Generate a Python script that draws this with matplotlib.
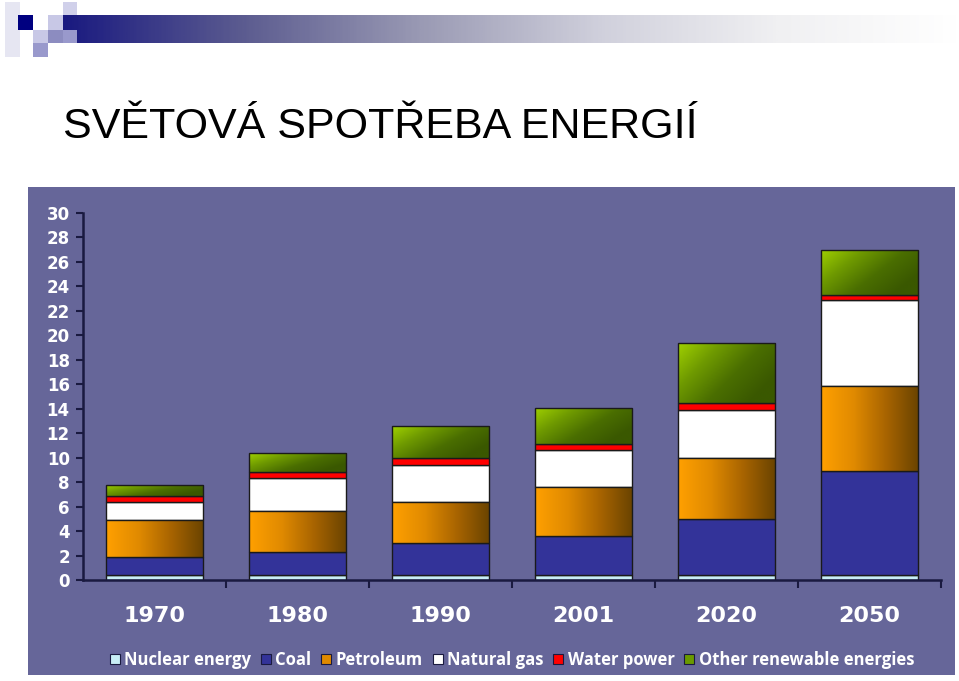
import numpy as np
import matplotlib
matplotlib.use('Agg')
import matplotlib.pyplot as plt
from matplotlib.patches import Rectangle, Patch
from matplotlib.colors import LinearSegmentedColormap

# data (units as on the axis)
years = ['1970', '1980', '1990', '2001', '2020', '2050']
nuclear = [0.4, 0.4, 0.4, 0.4, 0.4, 0.4]
coal = [1.5, 1.9, 2.6, 3.2, 4.55, 8.55]
petroleum = [3.0, 3.3, 3.4, 4.0, 5.0, 6.9]
natural_gas = [1.5, 2.7, 3.0, 3.0, 3.95, 7.05]
water_power = [0.5, 0.55, 0.55, 0.5, 0.55, 0.4]
other = [0.9, 1.5, 2.6, 3.0, 4.9, 3.7]
labels = ['Nuclear energy', 'Coal', 'Petroleum', 'Natural gas', 'Water power',
          'Other renewable energies']
yticks = list(range(0, 31, 2))

W, H = 959, 681
purple = '#666699'
axis_col = '#1a1a40'

fig = plt.figure(figsize=(W / 100, H / 100), dpi=100)
fig.patch.set_facecolor('white')


def box(x, y, w, h):
    # pixel box (top-left origin) -> figure fraction rect
    return [x / W, 1 - (y + h) / H, w / W, h / H]


# header decoration
squares = [
    (5, 2, 15, 55, '#e6e6f2'),
    (18, 15, 15, 15, '#000080'),
    (33, 30, 15, 13, '#c8c8e6'),
    (48, 15, 15, 15, '#c8c8e6'),
    (63, 2, 14, 13, '#d0d0ea'),
    (48, 30, 15, 13, '#8c8cc0'),
    (33, 43, 15, 14, '#9999cc'),
]
for x, y, w, h, c in squares:
    r = box(x, y, w, h)
    fig.patches.append(Rectangle((r[0], r[1]), r[2], r[3], transform=fig.transFigure,
                                 facecolor=c, edgecolor='none', zorder=-2))

bar_ax = fig.add_axes(box(63, 15, 896, 28))
hdr = LinearSegmentedColormap.from_list('hdr', ['#1a1a80', '#5c5c90', '#9a9ab4',
                                                '#d0d0dc', '#f0f0f2', '#ffffff'])
bar_ax.imshow(np.linspace(0, 1, 400)[None, :], aspect='auto', cmap=hdr)
bar_ax.axis('off')
r = box(63, 30, 14, 13)
fig.patches.append(Rectangle((r[0], r[1]), r[2], r[3], transform=fig.transFigure,
                             facecolor='#9999cc', edgecolor='none', zorder=5))

fig.text(63 / W, 1 - 138 / H, 'SVĚTOVÁ SPOTŘEBA ENERGIÍ', fontsize=31,
         family='Liberation Sans', color='black', ha='left', va='baseline')

# purple chart panel
r = box(28, 187, 927, 488)
fig.patches.append(Rectangle((r[0], r[1]), r[2], r[3], transform=fig.transFigure,
                             facecolor=purple, edgecolor='none', zorder=-1))

ax = fig.add_axes(box(83, 213, 858, 367))
ax.set_facecolor(purple)
x = np.arange(len(years))
width = 0.68

series = [nuclear, coal, petroleum, natural_gas, water_power, other]
colors = ['#c8eef6', '#333399', '#ff9900', '#ffffff', '#ff0000', '#6a9a00']
bottom = np.zeros(len(years))
containers = []
for vals, c in zip(series, colors):
    cont = ax.bar(x, vals, width, bottom=bottom, color=c, edgecolor='#1a1a1a',
                  linewidth=1.0, zorder=2)
    containers.append(cont)
    bottom += np.array(vals)

# gradients for petroleum and other renewables
petro_cmap = LinearSegmentedColormap.from_list('p', ['#ffa000', '#e08a00', '#a86400', '#6a4400'])
petro_grad = np.linspace(0, 1, 100)[None, :]
green_cmap = LinearSegmentedColormap.from_list('g', ['#9fd000', '#6f9a00', '#4a6e00', '#3a5800'])
gx, gy = np.meshgrid(np.linspace(0, 1, 100), np.linspace(0, 1, 50))
green_grad = np.clip(0.75 * gx + 0.45 * gy, 0, 1)

for cont, grad, cmap in [(containers[2], petro_grad, petro_cmap),
                         (containers[5], green_grad, green_cmap)]:
    for p in cont:
        x0, y0, w0, h0 = p.get_x(), p.get_y(), p.get_width(), p.get_height()
        im = ax.imshow(grad, extent=[x0, x0 + w0, y0, y0 + h0], origin='upper',
                       aspect='auto', cmap=cmap, zorder=2.5, interpolation='bilinear')
        im.set_clip_path(p)
        p.set_facecolor('none')
        p.set_zorder(3)

ax.set_xlim(-0.5, len(years) - 0.5)
ax.set_ylim(0, 30)
ax.set_aspect('auto')
ax.set_yticks(yticks)
ax.set_xticks(x)
ax.set_xticklabels(years)
ax.set_xticks(np.arange(0.5, len(years)), minor=True)
ax.tick_params(axis='x', which='major', length=0, pad=19, labelsize=16, labelcolor='white')
ax.tick_params(axis='x', which='minor', length=6, direction='out', color=axis_col, width=1.5)
ax.tick_params(axis='y', length=5, direction='out', color=axis_col, width=1.5,
               labelsize=12, labelcolor='white', pad=4.5)
for t in ax.get_xticklabels() + ax.get_yticklabels():
    t.set_fontweight('bold')
    t.set_family('DejaVu Sans')
for s in ['top', 'right']:
    ax.spines[s].set_visible(False)
for s in ['left', 'bottom']:
    ax.spines[s].set_color(axis_col)
    ax.spines[s].set_linewidth(1.8)

legend_cols = ['#c8eef6', '#333399', '#e08a00', '#ffffff', '#ff0000', '#6a9a00']
handles = [Patch(facecolor=c, edgecolor='#1a1a40', linewidth=0.8) for c in legend_cols]
fig.legend(handles, labels, loc='center', bbox_to_anchor=(512 / W, 1 - 660 / H),
           ncol=6, frameon=False, handlelength=0.6, handleheight=0.6,
           handletextpad=0.25, columnspacing=0.6,
           prop={'family': 'Open Sans', 'weight': 'bold', 'size': 12},
           labelcolor='white')

fig.savefig('out.png', dpi=100, facecolor='white')
